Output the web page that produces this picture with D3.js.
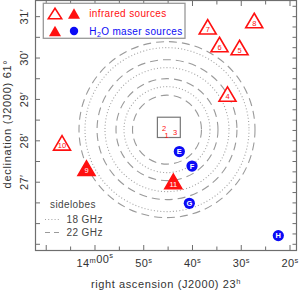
<!DOCTYPE html>
<html><head><meta charset="utf-8">
<script src="https://cdn.jsdelivr.net/npm/d3@7"></script>
<style>body{margin:0;background:#fff}svg{display:block}text{font-family:"Liberation Sans",Arial,sans-serif}</style>
</head><body>
<svg id="c" width="299" height="291"></svg>
<script>
// RA in seconds relative to 23h13m00s; Dec in arcmin relative to 61°
const irLabels = ["1","2","3","4","5","6","7","8","9","10","11"];
const irRA     = [45.30,45.84,43.58,32.82,30.35,34.46,36.88,27.34,61.74,66.76,43.93];
const irDec    = [28.13,28.31,28.22,29.13,30.255,30.327,30.755,30.907,27.34,27.95,27.02];
const irShape  = ["text","text","text","open","open","open","open","open","filled","open","filled"];
const maserLabels = ["E","F","G","H"];
const maserRA  = [42.7,40.1,40.65,22.4];
const maserDec = [27.74,27.39,26.49,25.71];
const lobeCenter = [45.23, 28.27];
const lobes22 = [0.833,1.232,1.69,2.126];
const lobes18 = [1.039,1.498,1.981];
const boxRA = [47.2,42.5], boxDec = [28.57,28.08];
const xTicks = [60,50,40,30,20];
const xTickLabels = [["14","m","00","s"],["50","s"],["40","s"],["30","s"],["20","s"]];
const yTicks = [31,30,29,28,27];

const svg = d3.select("#c");
const x = d3.scaleLinear().domain([72.2,18.67]).range([35.5,296.5]);
const y = d3.scaleLinear().domain([31.39,25.35]).range([0.5,250.5]);
const RED="#ff1010", BLUE="#0b0bf5", AX="#6e6e6e", TXT="#333";
const DASHC="#9a9a9a", DOTC="#a2a2a2";

// sidelobe circles
const cx=x(lobeCenter[0]), cy=y(lobeCenter[1]);
const pr = r=>Math.abs(y(lobeCenter[1]+r)-cy);
svg.selectAll(".l22").data(lobes22).join("circle").attr("cx",cx).attr("cy",cy).attr("r",pr)
  .attr("fill","none").attr("stroke",DASHC).attr("stroke-width",1.1).attr("stroke-dasharray","8,5");
svg.selectAll(".l18").data(lobes18).join("circle").attr("cx",cx).attr("cy",cy).attr("r",pr)
  .attr("fill","none").attr("stroke",DOTC).attr("stroke-width",1.1).attr("stroke-dasharray","1,2.2");

// box
svg.append("rect").attr("x",x(boxRA[0])).attr("y",y(boxDec[0]))
  .attr("width",x(boxRA[1])-x(boxRA[0])).attr("height",y(boxDec[1])-y(boxDec[0]))
  .attr("fill","none").attr("stroke","#777").attr("stroke-width",1.2);

// frame and ticks
const X0=35.5,X1=296.5,Y0=0.5,Y1=250.5;
svg.append("rect").attr("x",X0).attr("y",Y0).attr("width",X1-X0).attr("height",Y1-Y0)
  .attr("fill","none").attr("stroke",AX).attr("stroke-width",1.2);
const g=svg.append("g").attr("stroke",AX).attr("stroke-width",1);
d3.range(70,18,-5).forEach(v=>{
  const px=x(v), L=(v%10===0)?5.5:4;
  g.append("line").attr("x1",px).attr("x2",px).attr("y1",Y1).attr("y2",Y1-L);
  g.append("line").attr("x1",px).attr("x2",px).attr("y1",Y0).attr("y2",Y0+L);
});
d3.range(31,25.3,-0.5).forEach(v=>{
  const py=y(v), L=4.5;
  g.append("line").attr("x1",X0).attr("x2",X0+L).attr("y1",py).attr("y2",py);
});
d3.range(31.25,25.3,-0.25).forEach(v=>{
  const py=y(v);
  g.append("line").attr("x1",X1).attr("x2",X1-4).attr("y1",py).attr("y2",py);
});

// x tick labels
xTicks.forEach((v,i)=>{
  const t=svg.append("text").attr("x",x(v)).attr("y",267).attr("text-anchor","middle")
    .attr("font-size",11).attr("fill",TXT).attr("letter-spacing",0.4);
  const parts=xTickLabels[i];
  for(let k=0;k<parts.length;k+=2){
    t.append("tspan").text(parts[k]);
    t.append("tspan").attr("font-size",7.5).attr("dy",-4.5).text(parts[k+1]);
    if(k+2<parts.length) t.append("tspan").attr("dy",4.5).text("");
  }
});
// y tick labels
yTicks.forEach(v=>{
  svg.append("text").attr("transform",`translate(28,${y(v)}) rotate(-90)`).attr("text-anchor","middle")
    .attr("font-size",11).attr("fill",TXT).attr("letter-spacing",0.4).text(v+"\u2032");
});
// axis titles
svg.append("text").attr("x",166).attr("y",288).attr("text-anchor","middle").attr("font-size",11)
  .attr("fill",TXT).attr("letter-spacing",0.6)
  .html('right ascension (J2000) 23<tspan font-size="7.5" dy="-4.5">h</tspan>');
svg.append("text").attr("transform","translate(10.5,124) rotate(-90)").attr("text-anchor","middle")
  .attr("font-size",11).attr("fill",TXT).attr("letter-spacing",0.7).text("declination (J2000) 61\u00b0");

// triangles
function tri(w,h){return `M0,${-h/2}L${w/2},${h/2}L${-w/2},${h/2}Z`;}
irLabels.forEach((lab,i)=>{
  const px=x(irRA[i]), py=y(irDec[i]), s=irShape[i];
  if(s==="text"){
    svg.append("text").attr("x",px).attr("y",py+3).attr("text-anchor","middle").attr("font-size",7.5)
      .attr("fill",RED).text(lab);
    return;
  }
  svg.append("path").attr("transform",`translate(${px},${py})`).attr("d",tri(17,14.5))
    .attr("fill",s==="filled"?RED:"#fff").attr("stroke",RED).attr("stroke-width",1.6)
    .attr("stroke-linejoin","miter");
  svg.append("text").attr("x",px).attr("y",py+5.2).attr("text-anchor","middle").attr("font-size",7.5)
    .attr("fill",s==="filled"?"#fff":RED).text(lab);
});
// masers
maserLabels.forEach((lab,i)=>{
  const px=x(maserRA[i]), py=y(maserDec[i]);
  svg.append("circle").attr("cx",px).attr("cy",py).attr("r",5.6).attr("fill",BLUE);
  svg.append("text").attr("x",px).attr("y",py+2.7).attr("text-anchor","middle").attr("font-size",7.5)
    .attr("font-weight","bold").attr("fill","#fff").text(lab);
});

// legend
svg.append("rect").attr("x",43.3).attr("y",3.3).attr("width",141.7).attr("height",35)
  .attr("fill","#fff").attr("stroke","#999").attr("stroke-width",1.3);
svg.append("path").attr("transform","translate(55,13.5)").attr("d",tri(13.5,10.5))
  .attr("fill","#fff").attr("stroke",RED).attr("stroke-width",1.5);
svg.append("path").attr("transform","translate(74,13.5)").attr("d",tri(12,10.5)).attr("fill",RED);
svg.append("path").attr("transform","translate(55,31)").attr("d",tri(12,10.5)).attr("fill",RED);
svg.append("circle").attr("cx",74).attr("cy",31).attr("r",4.2).attr("fill",BLUE);
svg.append("text").attr("x",89.3).attr("y",17).attr("font-size",10).attr("fill",RED)
  .attr("letter-spacing",0.35).text("infrared sources");
svg.append("text").attr("x",89.3).attr("y",34.5).attr("font-size",10).attr("fill",BLUE)
  .attr("letter-spacing",0.35).html('H<tspan font-size="7" dy="2.5">2</tspan><tspan dy="-2.5">O maser sources</tspan>');

// sidelobe legend
svg.append("text").attr("x",50).attr("y",208).attr("font-size",10).attr("fill","#444")
  .attr("letter-spacing",0.4).text("sidelobes");
svg.append("line").attr("x1",45).attr("x2",59).attr("y1",219.5).attr("y2",219.5)
  .attr("stroke",DOTC).attr("stroke-dasharray","1,2.2");
svg.append("line").attr("x1",45).attr("x2",61).attr("y1",232.5).attr("y2",232.5)
  .attr("stroke",DASHC).attr("stroke-dasharray","5,4");
svg.append("text").attr("x",66.5).attr("y",222.5).attr("font-size",10).attr("fill","#444")
  .attr("letter-spacing",0.4).text("18 GHz");
svg.append("text").attr("x",66.5).attr("y",235.5).attr("font-size",10).attr("fill","#444")
  .attr("letter-spacing",0.4).text("22 GHz");
</script>
</body></html>
